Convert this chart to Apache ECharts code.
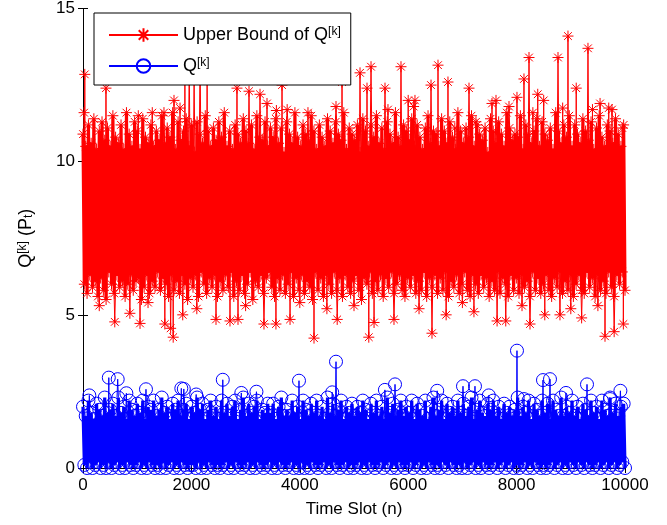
<!DOCTYPE html>
<html>
<head>
<meta charset="utf-8">
<script src="https://cdn.jsdelivr.net/npm/echarts@6/dist/echarts.min.js"></script>
<style>
  html, body { margin: 0; padding: 0; background: #fff; }
  #chart { width: 667px; height: 525px; }
</style>
</head>
<body>
<div id="chart"></div>
<script>
  // dense part of the red trace, read as a high/low zig-zag, evenly spread over 0..10000
  var redBand = [
    10.9,6.0,10.5,5.7,11.2,6.3,10.6,5.9,11.4,6.1,10.4,5.6,11.0,6.2,11.3,5.8,10.7,5.5,11.1,6.4,
    10.5,6.0,11.5,5.7,10.8,6.3,10.6,5.9,11.2,6.1,10.4,5.6,11.6,6.0,10.9,6.3,10.5,5.8,11.3,6.1,
    11.0,6.2,10.4,5.5,11.4,5.9,10.8,6.3,10.6,5.7,11.2,6.1,10.5,5.9,11.0,6.4,10.7,5.8,11.5,6.2,
    10.6,6.0,11.1,5.6,10.8,6.3,11.6,5.8,10.4,6.1,11.3,5.7,10.7,6.3,11.0,6.0,11.4,5.5,10.5,6.2,
    11.2,5.9,10.3,6.3,11.3,5.6,10.9,6.4,10.6,6.0,11.5,5.7,11.0,6.2,10.5,5.9,11.1,6.3,10.7,5.6,
    11.3,6.1,10.8,5.8,11.6,6.3,10.5,5.9,11.0,6.4,10.4,5.6,11.2,6.1,10.9,5.8,10.6,6.3,11.4,5.7,
    11.0,6.0,10.6,6.4,11.2,5.5,10.4,6.1,11.5,5.9,10.8,6.3,10.7,5.7,11.3,6.2,10.5,6.4,11.1,5.9,
    10.8,5.6,11.4,6.2,10.6,5.8,11.1,6.3,10.3,5.7,11.3,6.0,10.9,6.4,10.6,5.6,11.6,6.2,10.8,5.8,
    10.5,6.3,11.2,5.7,10.9,6.1,10.7,5.9,11.5,5.5,11.0,6.4,10.4,5.8,11.2,6.2,10.8,5.6,10.5,6.3,
    11.4,6.0,11.0,5.7,10.6,6.4,11.3,5.8,10.9,6.2,10.7,5.6,11.6,6.3,10.4,5.9,11.1,5.7,10.9,6.1,
    10.7,6.3,11.2,5.8,10.3,5.5,11.4,6.2,11.0,6.0,10.5,6.4,11.2,5.7,10.8,6.1,11.5,5.8,10.6,6.3,
    11.1,5.6,10.4,6.2,11.3,5.9,10.9,6.4,10.6,5.7,11.6,6.0,10.8,6.3,10.5,5.8,11.2,5.6,11.0,6.2,
    10.7,5.9,11.4,6.3,10.5,5.7,11.2,6.1,10.8,5.8,10.4,6.4,11.1,5.6,11.5,6.2,10.6,5.9,11.0,6.3,
    10.9,5.7,10.5,6.2,11.4,5.8,11.0,6.4,10.6,5.6,11.3,6.1,10.8,5.9,10.4,6.3,11.6,5.7,11.0,6.0,
    10.6,6.4,11.1,5.8,10.8,5.6,11.5,6.3,10.5,6.0,11.2,5.7,10.9,6.3,10.7,5.9,11.1,6.2,10.3,5.6,
    11.4,6.1,11.0,5.8,10.6,6.4,11.3,5.7,10.9,6.2,10.5,6.0,11.6,5.6,11.1,6.3,10.7,5.8,10.9,6.2,
    10.8,5.7,11.5,6.3,10.4,5.9,11.2,6.1,10.9,5.6,10.6,6.4,11.0,5.8,11.4,6.2,10.5,5.7,11.3,6.0,
    10.9,6.3,10.7,5.8,11.1,5.6,10.4,6.2,11.6,5.9,11.0,6.4,10.6,5.7,11.2,6.1,10.8,5.8,11.5,6.3,
    10.5,5.6,11.2,6.0,10.9,6.3,10.6,5.8,11.4,5.7,11.0,6.4,10.7,5.9,11.3,6.2,10.4,5.6,11.1,6.3,
    11.5,5.8,10.8,6.1,10.5,5.7,11.2,6.4,11.0,5.9,10.6,5.6,11.4,6.3,10.9,6.0,10.5,6.4,11.2,5.8
  ];

  // red points that stick out of the band (peaks and dips)
  var redSpikeX = [20, 33, 300, 424, 586, 865, 1020, 1052, 1200, 1278, 1510, 1494, 1617, 1664, 1679,
    1790, 1840, 1880, 1960, 2050, 2100, 2160, 2290, 2454, 2712, 2841, 2860, 3000, 3063, 3266, 3339,
    3395, 3560, 3568, 3672, 3767, 3820, 4000, 4151, 4262, 4500, 4668, 4690, 4779, 5000, 5111, 5240,
    5273, 5314, 5370, 5572, 5627, 5738, 5867, 6000, 6100, 6125, 6200, 6421, 6439, 6550, 6700, 6734,
    6860, 7000, 7122, 7213, 7250, 7546, 7620, 7640, 7800, 7860, 8007, 8100, 8136, 8229, 8247, 8300,
    8390, 8500, 8520, 8764, 8800, 8850, 8948, 9000, 9100, 9200, 9317, 9400, 9500, 9540, 9631, 9700,
    9760, 9800, 9950, 9970];
  var redSpikeY = [11.6, 12.85, 5.3, 12.4, 4.77, 5.05, 11.5, 4.72, 5.4, 11.6, 4.7, 11.6, 4.56, 4.27, 12.0,
    11.75, 5.0, 12.8, 13.3, 12.9, 5.2, 13.6, 12.7, 4.85, 4.8, 12.4, 4.85, 5.3, 12.3, 12.2, 4.7,
    11.9, 4.7, 11.67, 12.5, 11.7, 4.85, 5.4, 11.6, 4.24, 5.2, 11.8, 4.85, 12.6, 5.3, 12.9, 12.4,
    4.27, 13.1, 4.75, 12.4, 11.7, 4.85, 13.1, 12.0, 11.8, 12.0, 5.2, 12.5, 4.4, 13.15, 5.0, 12.6,
    11.1, 5.4, 12.4, 5.1, 11.3, 11.9, 12.0, 4.8, 4.8, 11.8, 12.1, 5.3, 12.7, 13.4, 4.7, 11.6,
    12.2, 12.0, 5.0, 13.4, 5.0, 11.75, 14.1, 5.2, 12.4, 4.9, 13.7, 11.7, 5.3, 11.9, 4.3, 11.75,
    11.7, 4.45, 11.1, 4.7];

  // dense part of the blue trace
  var blueBand = [
    2.0,0.1,1.7,0.0,2.2,0.2,1.8,0.0,1.6,0.1,2.1,0.2,1.9,0.0,1.7,0.1,2.3,0.0,1.8,0.2,
    1.9,0.0,2.1,0.1,1.7,0.2,2.3,0.0,1.8,0.1,2.0,0.0,1.6,0.2,2.2,0.1,1.9,0.0,1.7,0.1,
    2.1,0.2,1.8,0.0,2.2,0.1,1.6,0.0,2.0,0.2,1.9,0.1,2.2,0.0,1.7,0.1,1.9,0.0,2.3,0.2,
    1.8,0.0,2.0,0.1,1.6,0.2,2.1,0.0,1.9,0.1,2.2,0.0,1.7,0.2,1.9,0.1,2.1,0.0,1.6,0.1,
    2.0,0.1,1.8,0.0,2.3,0.2,1.9,0.0,2.1,0.1,1.6,0.0,1.9,0.2,2.2,0.1,1.7,0.0,2.0,0.1,
    1.6,0.0,2.2,0.1,1.8,0.2,2.1,0.0,1.7,0.1,2.0,0.0,2.2,0.2,1.6,0.1,1.9,0.0,2.3,0.1,
    1.7,0.2,2.1,0.0,1.8,0.1,2.0,0.0,2.2,0.2,1.6,0.1,1.9,0.0,1.8,0.1,2.1,0.2,1.8,0.0,
    2.1,0.1,1.6,0.0,2.0,0.2,2.3,0.1,1.7,0.0,1.9,0.1,1.7,0.2,2.2,0.0,1.8,0.1,2.0,0.0,
    1.6,0.2,2.2,0.0,1.9,0.1,1.7,0.0,2.1,0.2,1.8,0.1,2.2,0.0,1.7,0.1,2.0,0.2,1.6,0.0,
    2.3,0.1,1.8,0.0,2.1,0.2,1.7,0.1,1.9,0.0,2.2,0.1,1.6,0.2,2.0,0.0,1.8,0.1,2.1,0.0,
    1.7,0.1,2.0,0.2,1.8,0.0,2.2,0.1,1.9,0.0,1.6,0.2,2.1,0.1,1.8,0.0,2.2,0.1,1.7,0.2,
    2.0,0.0,1.6,0.1,2.3,0.2,1.8,0.0,2.1,0.1,1.7,0.0,1.9,0.2,2.2,0.1,1.7,0.0,2.0,0.1,
    1.8,0.2,2.2,0.0,1.6,0.1,2.1,0.2,1.9,0.0,1.7,0.1,2.2,0.0,1.6,0.2,2.0,0.1,2.3,0.0,
    1.7,0.1,1.9,0.0,2.2,0.2,1.6,0.1,2.1,0.0,1.8,0.2,2.0,0.1,1.7,0.0,2.2,0.1,1.8,0.0,
    2.1,0.2,1.7,0.0,2.0,0.1,2.3,0.2,1.6,0.0,1.9,0.1,2.2,0.0,1.8,0.2,1.7,0.1,2.1,0.0,
    1.9,0.1,2.2,0.2,1.7,0.0,2.0,0.1,1.6,0.2,2.1,0.0,1.8,0.1,2.0,0.2,1.7,0.0,1.9,0.1,
    2.3,0.0,1.7,0.1,2.0,0.2,1.8,0.0,2.2,0.1,1.6,0.0,2.1,0.2,1.9,0.1,1.7,0.0,2.2,0.1,
    1.8,0.0,2.1,0.1,1.6,0.2,2.2,0.0,1.9,0.1,1.7,0.2,2.3,0.0,1.7,0.1,2.0,0.0,1.8,0.2,
    2.2,0.1,1.7,0.0,2.0,0.2,1.6,0.1,2.1,0.0,1.9,0.2,1.7,0.1,2.2,0.0,1.8,0.1,2.0,0.2,
    1.6,0.0,2.2,0.1,1.9,0.2,1.7,0.0,2.3,0.1,1.8,0.2,2.1,0.0,1.7,0.1,2.0,0.2,2.1,0.0
  ];

  var blueSpikeX = [117, 476, 640, 800, 1162, 1814, 1860, 2088, 2579, 2921, 3200, 3985, 4598, 4668,
    5570, 5757, 6535, 7011, 7232, 7487, 8007, 8136, 8487, 8616, 8911, 9299, 9723, 9915];
  var blueSpikeY = [2.37, 2.95, 2.9, 2.44, 2.57, 2.6, 2.58, 2.4, 2.88, 2.45, 2.49, 2.85, 2.47, 3.47,
    2.55, 2.73, 2.52, 2.67, 2.67, 2.37, 3.83, 2.25, 2.87, 2.9, 2.45, 2.73, 2.25, 2.52];

  var xMax = 10000;
  var yMax = 15;

  function bandPoints(band) {
    var step = xMax / (band.length - 1);
    return band.map(function (v, i) { return [i * step, v]; });
  }

  // each spike leaves the band next to it and comes back, then the line breaks
  function spikePoints(band, sx, sy) {
    var step = xMax / (band.length - 1);
    var pts = [];
    for (var k = 0; k < sx.length; k++) {
      var base = band[Math.min(band.length - 1, Math.round(sx[k] / step))];
      pts.push({ value: [sx[k] - step / 2, base], symbol: 'none' });
      pts.push([sx[k], sy[k]]);
      pts.push({ value: [sx[k] + step / 2, base], symbol: 'none' });
      pts.push([sx[k] + step / 2, '-']);
    }
    return pts;
  }

  var font = '"Liberation Sans", Arial, Helvetica, sans-serif';
  var star = 'path://M5,0L5,10M0,5L10,5M1.5,1.5L8.5,8.5M1.5,8.5L8.5,1.5';
  var red = '#ff0000';
  var blue = '#0000ff';
  var richText = {
    sup: { fontSize: 12, fontFamily: font, color: '#000', verticalAlign: 'top', lineHeight: 12 },
    sub: { fontSize: 12, fontFamily: font, color: '#000', verticalAlign: 'bottom', lineHeight: 12 }
  };

  var redStyle = { color: red, borderColor: red, borderWidth: 1 };
  var blueStyle = { color: 'rgba(0,0,0,0)', borderColor: blue, borderWidth: 1 };

  var chart = echarts.init(document.getElementById('chart'));
  var frameAxis = {
    axisLine: { show: true, lineStyle: { color: '#000', width: 1 } },
    axisTick: { show: true, inside: true, length: 5, lineStyle: { color: '#000' } },
    axisLabel: { show: false },
    splitLine: { show: false }
  };

  chart.setOption({
    animation: false,
    backgroundColor: '#fff',
    textStyle: { fontFamily: font },
    grid: { left: 83, right: 42, top: 8, bottom: 57 },
    legend: {
      orient: 'vertical',
      left: 94,
      top: 13,
      padding: [13, 10, 10, 14],
      itemGap: 13,
      itemWidth: 69,
      itemHeight: 17,
      backgroundColor: '#fff',
      borderColor: '#000',
      borderWidth: 1,
      textStyle: { fontSize: 18, color: '#000', fontFamily: font, rich: richText },
      formatter: function (name) { return name.replace('[k]', '{sup|[k]}'); },
      data: ['Upper Bound of Q[k]', 'Q[k]']
    },
    xAxis: [{
      type: 'value',
      min: 0,
      max: xMax,
      interval: 2000,
      name: 'Time Slot (n)',
      nameLocation: 'middle',
      nameGap: 33,
      nameTextStyle: { fontSize: 17, color: '#000', fontFamily: font },
      axisLine: { show: true, onZero: false, lineStyle: { color: '#000', width: 1 } },
      axisTick: { show: true, inside: true, length: 5, lineStyle: { color: '#000' } },
      axisLabel: { fontSize: 17, color: '#000', margin: 9, fontFamily: font,
        formatter: function (v) { return String(v); } },
      splitLine: { show: false }
    }, Object.assign({ type: 'value', position: 'top', min: 0, max: xMax, interval: 2000 }, frameAxis)],
    yAxis: [{
      type: 'value',
      min: 0,
      max: yMax,
      interval: 5,
      name: 'Q{sup|[k]} (P{sub|t})',
      nameLocation: 'middle',
      nameGap: 48,
      nameTextStyle: { fontSize: 18, color: '#000', fontFamily: font, rich: richText },
      axisLine: { show: true, onZero: false, lineStyle: { color: '#000', width: 1 } },
      axisTick: { show: true, inside: true, length: 5, lineStyle: { color: '#000' } },
      axisLabel: { fontSize: 17, color: '#000', margin: 8, fontFamily: font },
      splitLine: { show: false }
    }, Object.assign({ type: 'value', position: 'right', min: 0, max: yMax, interval: 5 }, frameAxis)],
    series: [
      {
        name: 'Upper Bound of Q[k]',
        type: 'line',
        data: bandPoints(redBand),
        symbol: star,
        symbolSize: 11,
        showAllSymbol: true,
        clip: false,
        lineStyle: { color: red, width: 3.2 },
        itemStyle: redStyle,
        emphasis: { disabled: true }
      },
      {
        name: 'Upper Bound of Q[k]',
        type: 'line',
        data: spikePoints(redBand, redSpikeX, redSpikeY),
        symbol: star,
        symbolSize: 11,
        showAllSymbol: true,
        clip: false,
        lineStyle: { color: red, width: 1 },
        itemStyle: redStyle,
        emphasis: { disabled: true }
      },
      {
        name: 'Q[k]',
        type: 'line',
        data: bandPoints(blueBand),
        symbol: 'circle',
        symbolSize: 13,
        showAllSymbol: true,
        clip: false,
        lineStyle: { color: blue, width: 3.2 },
        itemStyle: blueStyle,
        emphasis: { disabled: true }
      },
      {
        name: 'Q[k]',
        type: 'line',
        data: spikePoints(blueBand, blueSpikeX, blueSpikeY),
        symbol: 'circle',
        symbolSize: 13,
        showAllSymbol: true,
        clip: false,
        lineStyle: { color: blue, width: 1 },
        itemStyle: blueStyle,
        emphasis: { disabled: true }
      }
    ]
  });
</script>
</body>
</html>
